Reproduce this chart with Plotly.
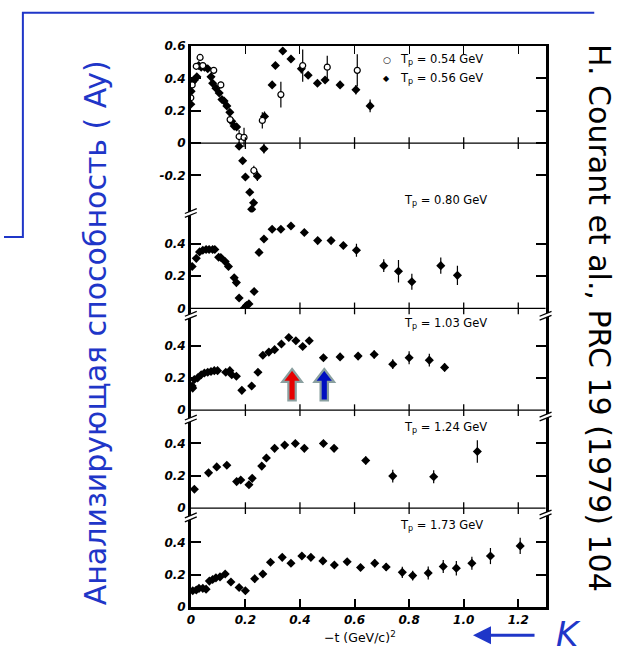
import plotly.graph_objects as go

# ---------------- data ----------------
# Panel 1: Tp = 0.54 GeV (open circles)
x054 = [0.0, 0.005, 0.02, 0.034, 0.044, 0.084, 0.11, 0.144, 0.177, 0.195, 0.231, 0.262, 0.33, 0.41, 0.50, 0.61]
y054 = [0.28, 0.36, 0.475, 0.53, 0.48, 0.45, 0.36, 0.145, 0.04, 0.035, -0.17, 0.14, 0.30, 0.48, 0.47, 0.45]
e054 = [0.02, 0.02, 0.02, 0.02, 0.02, 0.02, 0.02, 0.03, 0.04, 0.06, 0.03, 0.05, 0.08, 0.10, 0.07, 0.10]

# Panel 1: Tp = 0.56 GeV (filled)
x056 = [0.0, 0.001, 0.007, 0.013, 0.022, 0.029, 0.038, 0.05, 0.062, 0.074, 0.08, 0.092, 0.104, 0.114,
        0.122, 0.132, 0.143, 0.15, 0.159, 0.168, 0.177, 0.19, 0.20, 0.216, 0.223, 0.23, 0.244, 0.268,
        0.27, 0.298, 0.31, 0.337, 0.367, 0.405, 0.43, 0.464, 0.492, 0.547, 0.605, 0.657]
y056 = [0.24, 0.32, 0.38, 0.39, 0.41, 0.48, 0.47, 0.47, 0.46, 0.41, 0.37, 0.34, 0.31, 0.27,
        0.26, 0.23, 0.19, 0.135, 0.105, 0.10, -0.02, -0.11, -0.21, -0.305, -0.41, -0.37, -0.205, -0.035,
        0.165, 0.36, 0.48, 0.57, 0.52, 0.46, 0.42, 0.37, 0.39, 0.36, 0.33, 0.23]
e056 = [0.015, 0.015, 0.015, 0.015, 0.015, 0.015, 0.015, 0.015, 0.015, 0.015, 0.015, 0.015, 0.015, 0.015,
        0.015, 0.015, 0.015, 0.015, 0.015, 0.015, 0.015, 0.015, 0.015, 0.015, 0.015, 0.02, 0.03, 0.03,
        0.03, 0.015, 0.015, 0.02, 0.015, 0.03, 0.015, 0.015, 0.015, 0.015, 0.03, 0.04]

# Panel 2: Tp = 0.80 GeV
x080 = [0.005, 0.02, 0.032, 0.044, 0.056, 0.067, 0.08, 0.088, 0.102, 0.11, 0.126, 0.138, 0.159, 0.167,
        0.177, 0.197, 0.204, 0.213, 0.232, 0.25, 0.268, 0.298, 0.33, 0.367, 0.416, 0.465, 0.514, 0.559,
        0.607, 0.707, 0.761, 0.81, 0.916, 0.977]
y080 = [0.26, 0.31, 0.35, 0.36, 0.365, 0.365, 0.365, 0.365, 0.317, 0.315, 0.29, 0.26, 0.19, 0.16,
        0.065, 0.004, 0.018, 0.028, 0.105, 0.347, 0.43, 0.49, 0.49, 0.51, 0.47, 0.42, 0.42, 0.39,
        0.36, 0.265, 0.23, 0.165, 0.265, 0.205]
e080 = [0.012, 0.012, 0.012, 0.012, 0.012, 0.012, 0.012, 0.012, 0.012, 0.012, 0.012, 0.012, 0.012, 0.012,
        0.012, 0.012, 0.012, 0.012, 0.012, 0.012, 0.012, 0.012, 0.012, 0.012, 0.012, 0.012, 0.012, 0.02,
        0.04, 0.04, 0.07, 0.05, 0.05, 0.06]

# Panel 3: Tp = 1.03 GeV
x103 = [0.005, 0.007, 0.013, 0.025, 0.038, 0.05, 0.062, 0.074, 0.086, 0.098, 0.128, 0.143, 0.15, 0.167,
        0.187, 0.223, 0.246, 0.264, 0.286, 0.307, 0.332, 0.359, 0.385, 0.41, 0.434, 0.486, 0.547, 0.613,
        0.672, 0.74, 0.80, 0.874, 0.93]
y103 = [0.15, 0.137, 0.19, 0.2, 0.22, 0.23, 0.235, 0.24, 0.245, 0.245, 0.235, 0.245, 0.22, 0.21,
        0.123, 0.15, 0.235, 0.34, 0.36, 0.375, 0.41, 0.45, 0.43, 0.395, 0.43, 0.325, 0.33, 0.335,
        0.345, 0.285, 0.325, 0.31, 0.265]
e103 = [0.012, 0.012, 0.012, 0.012, 0.012, 0.012, 0.012, 0.012, 0.012, 0.012, 0.012, 0.012, 0.012, 0.012,
        0.012, 0.012, 0.012, 0.012, 0.012, 0.012, 0.012, 0.012, 0.012, 0.012, 0.012, 0.015, 0.015, 0.02,
        0.025, 0.03, 0.04, 0.04, 0.025]

# Panel 4: Tp = 1.24 GeV
x124 = [0.013, 0.065, 0.095, 0.132, 0.168, 0.183, 0.213, 0.225, 0.26, 0.277, 0.307, 0.344, 0.383, 0.416,
        0.486, 0.525, 0.641, 0.74, 0.89, 1.05]
y124 = [0.117, 0.218, 0.255, 0.265, 0.164, 0.174, 0.144, 0.184, 0.26, 0.31, 0.37, 0.39, 0.40, 0.37,
        0.40, 0.37, 0.295, 0.198, 0.194, 0.35]
e124 = [0.015, 0.015, 0.015, 0.015, 0.015, 0.015, 0.015, 0.015, 0.015, 0.02, 0.015, 0.015, 0.015, 0.015,
        0.015, 0.015, 0.025, 0.04, 0.04, 0.07]

# Panel 5: Tp = 1.73 GeV
x173 = [0.007, 0.02, 0.03, 0.044, 0.056, 0.068, 0.08, 0.092, 0.107, 0.126, 0.147, 0.177, 0.2, 0.234,
        0.264, 0.292, 0.335, 0.367, 0.407, 0.44, 0.484, 0.526, 0.573, 0.622, 0.674, 0.716, 0.775, 0.813,
        0.87, 0.925, 0.973, 1.03, 1.098, 1.207]
y173 = [0.10, 0.105, 0.115, 0.115, 0.11, 0.16, 0.17, 0.18, 0.186, 0.204, 0.154, 0.12, 0.10, 0.174,
        0.204, 0.277, 0.307, 0.27, 0.315, 0.307, 0.285, 0.26, 0.28, 0.244, 0.27, 0.247, 0.214, 0.194,
        0.21, 0.25, 0.24, 0.27, 0.315, 0.378]
e173 = [0.012, 0.012, 0.012, 0.012, 0.012, 0.012, 0.012, 0.012, 0.012, 0.012, 0.012, 0.012, 0.012, 0.025,
        0.012, 0.015, 0.015, 0.015, 0.015, 0.012, 0.012, 0.012, 0.015, 0.02, 0.025, 0.025, 0.035, 0.03,
        0.04, 0.04, 0.045, 0.04, 0.05, 0.05]

x_ticks = [0, 0.2, 0.4, 0.6, 0.8, 1.0, 1.2]
x_ticktext = ["0", "0.2", "0.4", "0.6", "0.8", "1.0", "1.2"]
y1_ticks = [-0.2, 0, 0.2, 0.4, 0.6]
y1_ticktext = ["-0.2", "0", "0.2", "0.4", "0.6"]
yn_ticks = [0, 0.2, 0.4]
yn_ticktext = ["0", "0.2", "0.4"]
panel_labels = ["T<sub>p</sub> = 0.80 GeV", "T<sub>p</sub> = 1.03 GeV",
                "T<sub>p</sub> = 1.24 GeV", "T<sub>p</sub> = 1.73 GeV"]
legend_labels = ["T<sub>p</sub> = 0.54 GeV", "T<sub>p</sub> = 0.56 GeV"]

# ---------------- layout geometry (pixels) ----------------
W, H = 635, 656
def px(v): return v / W
def py(v): return 1 - v / H

LEFT, RIGHT = 188, 545
# (top px, bottom px, zero px)
PANELS = [(40, 210, 139), (210, 308, 308), (308, 412, 412), (412, 512, 512), (512, 613, 613)]
SCALE = 165.0
BLUE = "#1f36c8"

tickfont = dict(family="DejaVu Sans", size=12, color="black", weight="bold", style="italic")
labfont = dict(family="DejaVu Sans", size=11.5, color="black")

fig = go.Figure()

def add_series(xs, ys, es, yax, open_marker=False):
    fig.add_trace(go.Scatter(
        x=xs, y=ys, mode="markers", xaxis="x", yaxis=yax,
        error_y=dict(type="data", array=es, visible=True, color="black", thickness=1.2, width=0),
        marker=dict(symbol="circle" if open_marker else "diamond",
                    size=6 if open_marker else 7,
                    color="white" if open_marker else "black",
                    line=dict(color="black", width=1.2 if open_marker else 0)),
        showlegend=False, hoverinfo="x+y"))

add_series(x056, y056, e056, "y")
add_series(x054, y054, e054, "y", open_marker=True)
add_series(x080, y080, e080, "y2")
add_series(x103, y103, e103, "y3")
add_series(x124, y124, e124, "y4")
add_series(x173, y173, e173, "y5")
# helper trace for the top frame axis
fig.add_trace(go.Scatter(x=[None], y=[None], xaxis="x2", yaxis="y", showlegend=False, hoverinfo="skip"))

layout = dict(width=W, height=H, margin=dict(l=0, r=0, t=0, b=0),
              paper_bgcolor="white", plot_bgcolor="white", showlegend=False)
layout["xaxis"] = dict(domain=[px(LEFT), px(RIGHT)], range=[0, 1.3], anchor="y5",
                       tickvals=x_ticks, ticktext=x_ticktext, ticks="inside", ticklen=8,
                       tickwidth=1.5, tickcolor="black", showline=True, linewidth=2.5,
                       linecolor="black", showgrid=False, zeroline=False, tickfont=tickfont,
                       fixedrange=True)
layout["xaxis2"] = dict(overlaying="x", range=[0, 1.3], anchor="y", side="top",
                        tickvals=x_ticks[1:], ticks="inside", ticklen=8, tickwidth=1.3,
                        tickcolor="black", showline=True, linewidth=1.5, linecolor="black",
                        showgrid=False, zeroline=False, showticklabels=False, fixedrange=True)
for i, (top, bot, zero) in enumerate(PANELS):
    name = "yaxis" if i == 0 else "yaxis%d" % (i + 1)
    tv = y1_ticks if i == 0 else yn_ticks
    tt = y1_ticktext if i == 0 else yn_ticktext
    layout[name] = dict(domain=[py(bot), py(top)],
                        range=[(zero - bot) / SCALE, (zero - top) / SCALE],
                        anchor="x", tickvals=tv, ticktext=tt, ticks="inside", ticklen=10,
                        tickwidth=1.5, tickcolor="black", showline=True, linewidth=2.5,
                        linecolor="black", mirror="ticks", showgrid=False, zeroline=False,
                        tickfont=tickfont, fixedrange=True)
fig.update_layout(**layout)

shapes = []
# zero lines with crossing ticks
for (top, bot, zero) in PANELS[:4]:
    shapes.append(dict(type="line", xref="x domain", yref="paper", x0=0, x1=1,
                       y0=py(zero), y1=py(zero), line=dict(color="black", width=1.3)))
    for t in x_ticks[1:]:
        shapes.append(dict(type="line", xref="x", yref="paper", x0=t, x1=t,
                           y0=py(zero - 6), y1=py(zero + 6), line=dict(color="black", width=1.3)))

# axis breaks "//"
def axis_break(xc, yc):
    a0, a1 = (xc - 6, yc + 1), (xc + 6, yc - 4)
    b0, b1 = (xc - 6, yc + 5), (xc + 6, yc)
    path = "M %f %f L %f %f L %f %f L %f %f Z" % (px(a0[0]), py(a0[1]), px(a1[0]), py(a1[1]),
                                                   px(b1[0]), py(b1[1]), px(b0[0]), py(b0[1]))
    shapes.append(dict(type="path", xref="paper", yref="paper", path=path,
                       fillcolor="white", line=dict(width=0)))
    for p0, p1 in ((a0, a1), (b0, b1)):
        shapes.append(dict(type="line", xref="paper", yref="paper",
                           x0=px(p0[0]), y0=py(p0[1]), x1=px(p1[0]), y1=py(p1[1]),
                           line=dict(color="black", width=1.3)))

for yb in (210, 315, 421, 521):
    axis_break(LEFT, yb)
for yb in (315, 418, 518):
    axis_break(RIGHT, yb)

# block arrows in the 1.03 GeV panel
def block_arrow(xc, ytip, ybot, fill):
    hw, sw, hh = 0.036, 0.0135, 0.08
    pts = [(xc, ytip), (xc + hw, ytip - hh), (xc + sw, ytip - hh), (xc + sw, ybot),
           (xc - sw, ybot), (xc - sw, ytip - hh), (xc - hw, ytip - hh)]
    path = "M " + " L ".join("%f %f" % p for p in pts) + " Z"
    shapes.append(dict(type="path", xref="x", yref="y3", path=path, fillcolor=fill,
                       line=dict(color="#8aa0a0", width=2.2), layer="above"))

block_arrow(0.371, 0.255, 0.06, "#e60000")
block_arrow(0.489, 0.255, 0.06, "#0010c0")

# blue frame line top-left
frame = "M %f %f L %f %f L %f %f L %f %f" % (px(0), py(235), px(19), py(235), px(19), py(6),
                                             px(594), py(6))
shapes.append(dict(type="path", xref="paper", yref="paper", path=frame,
                   line=dict(color=BLUE, width=2)))
fig.update_layout(shapes=shapes)

def note(x, y, text, font, xanchor="center", angle=0):
    return dict(x=px(x), y=py(y), xref="paper", yref="paper", text=text, showarrow=False,
                xanchor=xanchor, yanchor="middle", textangle=angle, font=font)

ann = []
# legend of panel 1
ann.append(note(385, 54, "○", dict(family="DejaVu Sans", size=9, color="black")))
ann.append(note(385, 73, "◆", dict(family="DejaVu Sans", size=8, color="black")))
ann.append(note(397, 54, legend_labels[0], labfont, "left"))
ann.append(note(397, 73, legend_labels[1], labfont, "left"))
for lab, (lx, ly) in zip(panel_labels, [(401, 198), (401, 323), (401, 430), (397, 530)]):
    ann.append(note(lx, ly, lab, labfont, "left"))
# x title
ann.append(note(358, 644, "−t (GeV/c)<sup>2</sup>", dict(family="DejaVu Sans", size=12.5, color="black")))
# left rotated title
ann.append(note(92, 333, "Анализирующая способность ( Ay)",
                dict(family="DejaVu Sans", size=30, color=BLUE), angle=-90))
# right rotated reference
ann.append(note(600, 318, "H. Courant et al., PRC 19 (1979) 104",
                dict(family="DejaVu Sans", size=30, color="black"), angle=90))
# K with arrow
ann.append(note(568, 641, "K", dict(family="DejaVu Sans", size=34, color=BLUE, style="italic")))
ann.append(dict(x=px(472), y=py(642), xref="paper", yref="paper", text="", showarrow=True,
                ax=63, ay=0, arrowhead=2, arrowsize=1.2, arrowwidth=3, arrowcolor=BLUE,
                standoff=0))
fig.update_layout(annotations=ann)

fig.write_html("out.html")
